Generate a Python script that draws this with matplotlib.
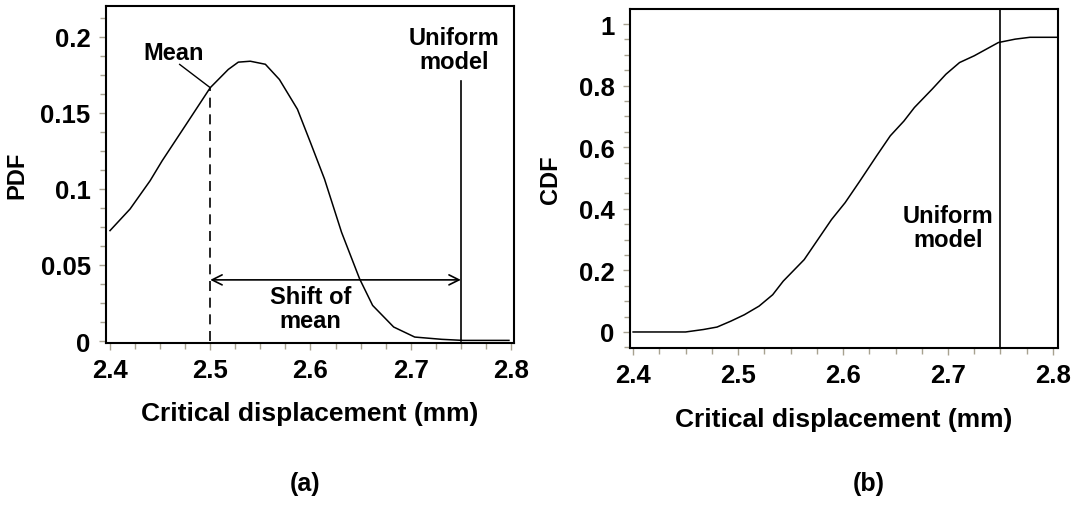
import matplotlib
matplotlib.use("Agg")
import matplotlib.pyplot as plt
from matplotlib.ticker import MultipleLocator

# PDF curve
pdf_x = [2.400, 2.420, 2.440, 2.452, 2.476, 2.500, 2.518, 2.528, 2.540, 2.555,
         2.569, 2.587, 2.600, 2.614, 2.631, 2.649, 2.662, 2.683, 2.704, 2.731,
         2.752, 2.798]
pdf_y = [0.0726, 0.0868, 0.1054, 0.1185, 0.1425, 0.1666, 0.1786, 0.1834, 0.1840, 0.1820,
         0.1720, 0.1524, 0.1305, 0.1065, 0.0715, 0.0409, 0.0234, 0.0092, 0.0026, 0.0011,
         0.0004, 0.0004]

# CDF curve
cdf_x = [2.400, 2.450, 2.467, 2.480, 2.493, 2.506, 2.520, 2.533, 2.543, 2.563,
         2.576, 2.589, 2.602, 2.616, 2.632, 2.645, 2.658, 2.668, 2.685, 2.698,
         2.711, 2.725, 2.748, 2.764, 2.778, 2.804]
cdf_y = [0.000, 0.000, 0.008, 0.016, 0.035, 0.056, 0.084, 0.121, 0.165, 0.235,
         0.300, 0.365, 0.420, 0.490, 0.572, 0.637, 0.685, 0.729, 0.789, 0.837,
         0.875, 0.897, 0.940, 0.951, 0.957, 0.957]

mean_x = 2.5
mean_pdf = 0.1666
uniform_x = 2.75

xticks = [2.4, 2.5, 2.6, 2.7, 2.8]
xticklabels = ["2.4", "2.5", "2.6", "2.7", "2.8"]
pdf_ticks = [0, 0.05, 0.1, 0.15, 0.2]
pdf_ticklabels = ["0", "0.05", "0.1", "0.15", "0.2"]
cdf_ticks = [0, 0.2, 0.4, 0.6, 0.8, 1]
cdf_ticklabels = ["0", "0.2", "0.4", "0.6", "0.8", "1"]

plt.rcParams["font.family"] = ["Liberation Sans", "DejaVu Sans"]
plt.rcParams["font.weight"] = "bold"

fig = plt.figure(figsize=(10.75, 5.06), dpi=100)
ax1 = fig.add_axes([0.0986, 0.3211, 0.3795, 0.6641])
ax2 = fig.add_axes([0.586, 0.3103, 0.398, 0.670])

tick_col = "#a8a290"
note_size = 17


def style(ax, ticks, labels, yticks, ylabels, yminor):
    ax.set_xticks(ticks)
    ax.set_xticklabels(labels, fontsize=18.5, fontweight="bold")
    ax.set_yticks(yticks)
    ax.set_yticklabels(ylabels, fontsize=18.5, fontweight="bold")
    ax.xaxis.set_minor_locator(MultipleLocator(0.025))
    ax.yaxis.set_minor_locator(MultipleLocator(yminor))
    ax.tick_params(which="major", length=5, width=1, color=tick_col, pad=6)
    ax.tick_params(which="minor", length=4, width=1, color=tick_col)
    for s in ax.spines.values():
        s.set_linewidth(1.5)
    ax.set_xlabel("Critical displacement (mm)", fontsize=19, fontweight="bold",
                  labelpad=14)


# (a) PDF
ax1.plot(pdf_x, pdf_y, color="black", lw=1.1)
ax1.plot([mean_x, mean_x], [0, mean_pdf], color="black", lw=1.2, ls=(0, (6, 4)))
ax1.plot([uniform_x, uniform_x], [0, 0.171], color="black", lw=1.2)
ax1.annotate("", xy=(2.5, 0.0402), xytext=(2.75, 0.0402),
             arrowprops=dict(arrowstyle="<->", color="black", lw=1.2,
                             shrinkA=0, shrinkB=0, mutation_scale=18))
ax1.plot([2.4695, mean_x], [0.1819, mean_pdf], color="black", lw=1)
ax1.text(2.463, 0.1895, "Mean", ha="center", va="center", fontsize=note_size)
ax1.text(2.743, 0.192, "Uniform\nmodel", ha="center", va="center",
         fontsize=note_size, linespacing=1.05)
ax1.text(2.6, 0.0212, "Shift of\nmean", ha="center", va="center",
         fontsize=note_size, linespacing=1.05)
ax1.set_xlim(2.396, 2.803)
ax1.set_ylim(-0.001, 0.22)
style(ax1, xticks, xticklabels, pdf_ticks, pdf_ticklabels, 0.0125)
ax1.set_ylabel("PDF", fontsize=17, fontweight="bold", labelpad=9)

# (b) CDF
ax2.plot(cdf_x, cdf_y, color="black", lw=1.1)
ax2.axvline(uniform_x, color="black", lw=1.2)
ax2.text(2.70, 0.34, "Uniform\nmodel", ha="center", va="center",
         fontsize=note_size, linespacing=1.05)
ax2.set_xlim(2.397, 2.8046)
ax2.set_ylim(-0.052, 1.049)
style(ax2, xticks, xticklabels, cdf_ticks, cdf_ticklabels, 0.05)
ax2.set_ylabel("CDF", fontsize=17, fontweight="bold", labelpad=12)

fig.text(0.2837, 0.0435, "(a)", ha="center", va="center", fontsize=18, fontweight="bold")
fig.text(0.8084, 0.0435, "(b)", ha="center", va="center", fontsize=18, fontweight="bold")

fig.savefig("out.png", dpi=100)
